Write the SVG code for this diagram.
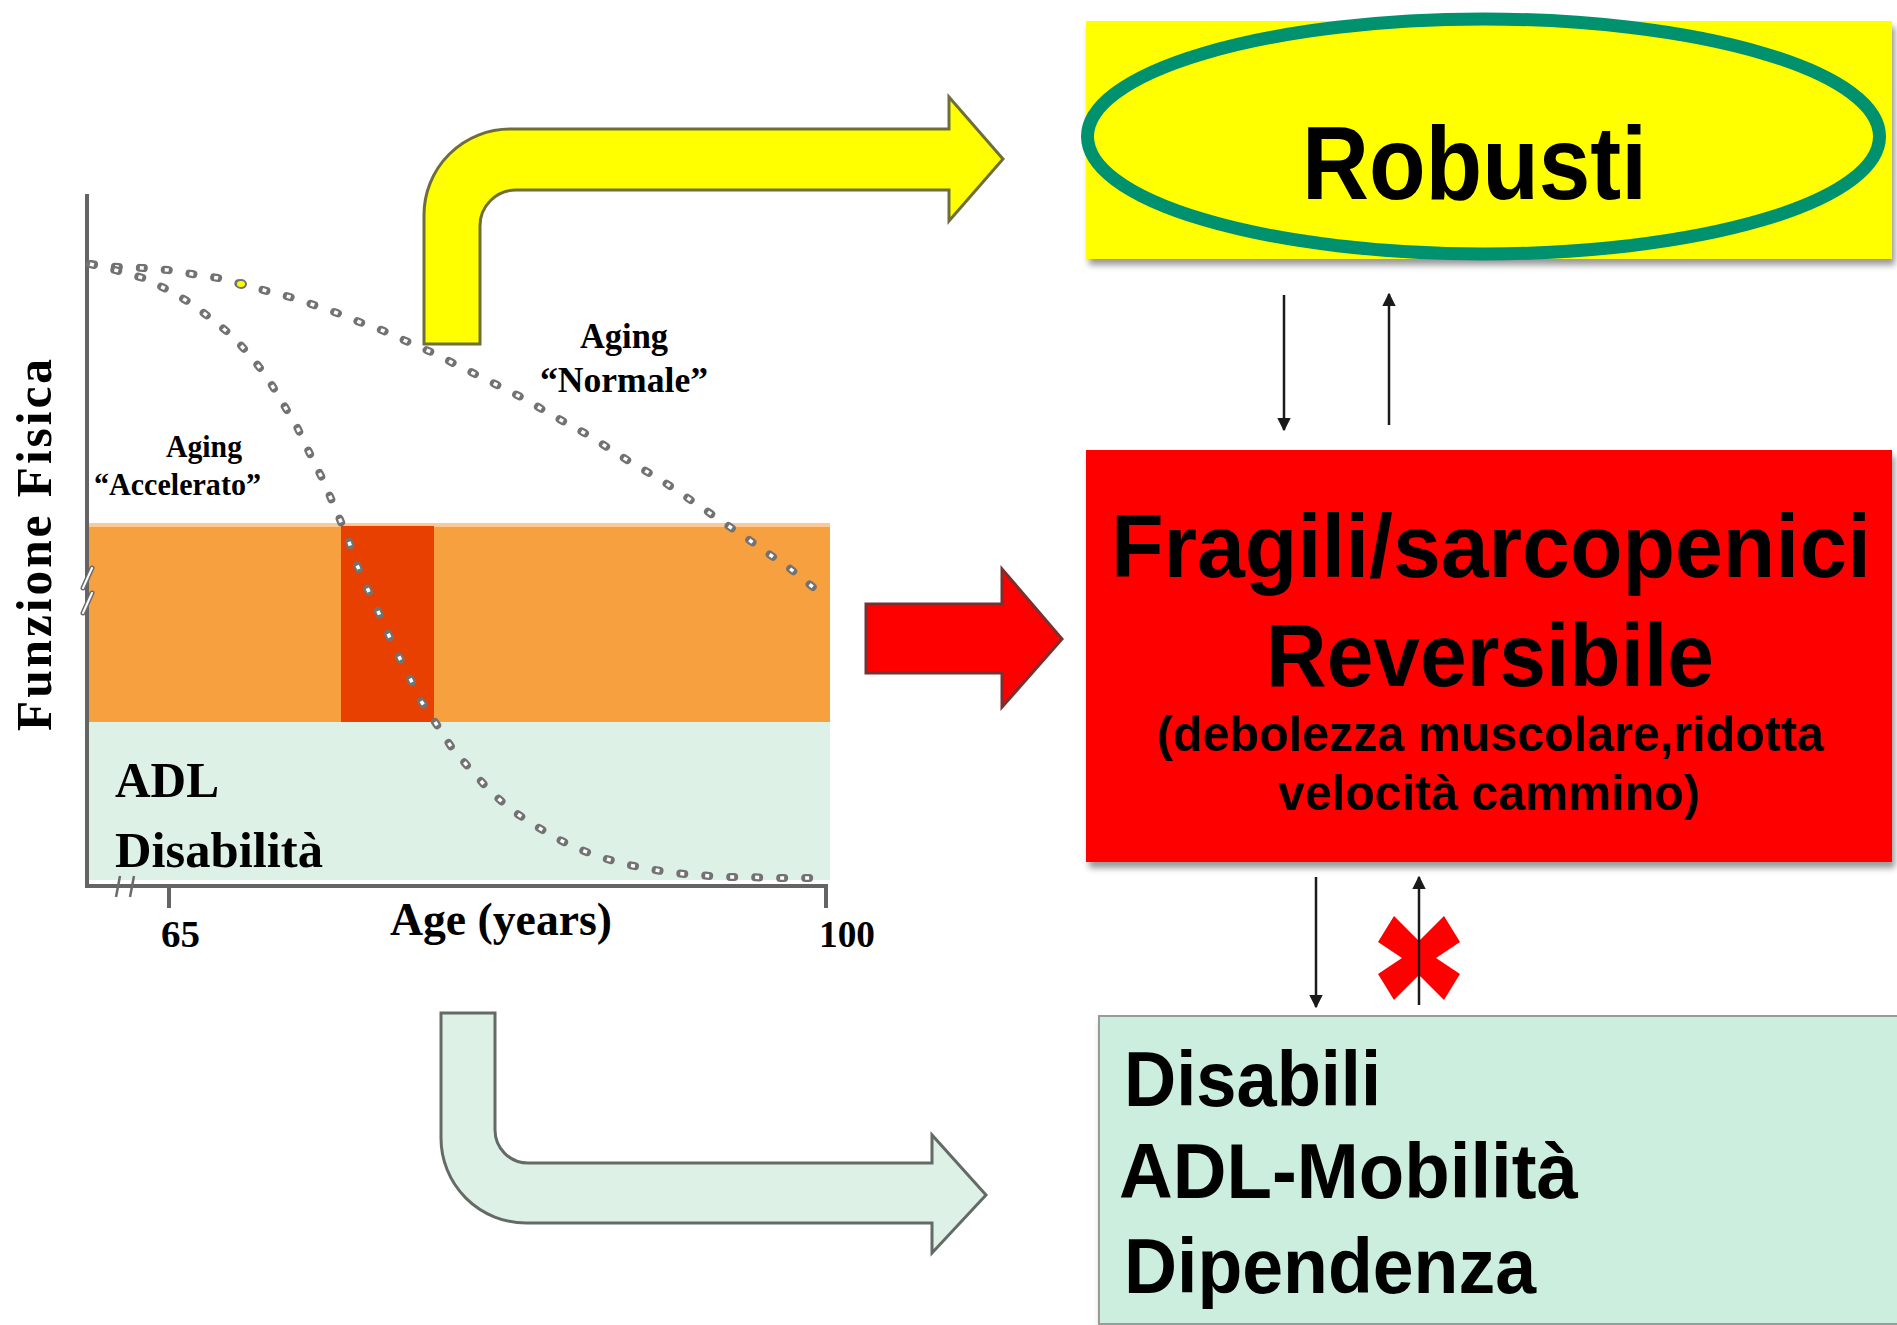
<svg xmlns="http://www.w3.org/2000/svg" width="1897" height="1325" viewBox="0 0 1897 1325">
<style>
.serif{font-family:"Liberation Serif","Times New Roman",serif;font-weight:bold;fill:#000}
.sans{font-family:"Liberation Sans",Arial,sans-serif;font-weight:bold;fill:#000}
.axis{stroke:#646464;stroke-width:4;fill:none}
.dotO{fill:none;stroke:#727272;stroke-width:8;stroke-dasharray:4 21;stroke-linecap:round;stroke-linejoin:round}
.dotI{fill:none;stroke:#fff;stroke-width:3.5;stroke-dasharray:4 21;stroke-linecap:butt;stroke-linejoin:round}
.thin{stroke:#1a1a1a;stroke-width:2.5;fill:none}
</style>
<defs>
<filter id="sh" x="-5%" y="-5%" width="112%" height="115%">
<feDropShadow dx="3" dy="6" stdDeviation="3" flood-color="#000" flood-opacity="0.4"/>
</filter>
<marker id="ah" viewBox="0 0 10 10" refX="9" refY="5" markerWidth="5.5" markerHeight="5.5" orient="auto-start-reverse" markerUnits="strokeWidth">
<path d="M0,0 L10,5 L0,10 Z" fill="#1a1a1a"/>
</marker>
</defs>
<rect width="1897" height="1325" fill="#fff"/>

<g id="chart">
<rect x="87" y="526" width="743" height="196" fill="#F7A040"/>
<rect x="87" y="523" width="743" height="4" fill="#FBC896"/>
<rect x="341" y="526" width="93" height="196" fill="#E84000"/>
<rect x="87" y="722" width="743" height="158" fill="#DDF1E7"/>
<line class="axis" x1="87" y1="194" x2="87" y2="888"/>
<line class="axis" x1="85" y1="886" x2="828" y2="886"/>
<line class="axis" x1="169" y1="886" x2="169" y2="908"/>
<line class="axis" x1="826" y1="886" x2="826" y2="908"/>
<g stroke="#6a6a6a" stroke-width="5" stroke-linecap="round"><line x1="83" y1="588" x2="92" y2="568"/><line x1="83" y1="613" x2="92" y2="593"/></g>
<g stroke="#fff" stroke-width="2" stroke-linecap="round"><line x1="83" y1="588" x2="92" y2="568"/><line x1="83" y1="613" x2="92" y2="593"/></g>
<g stroke="#6a6a6a" stroke-width="2.5"><line x1="116" y1="897" x2="120" y2="876"/><line x1="130" y1="897" x2="134" y2="876"/></g>
<path class="dotO" d="M90,264 L118,267 L143,268 L168,270 L192,274 L218,278 L241,284 L267,291 L290,297 L314,305 L337,313 L362,323 L384,331 L408,342 L431,352 L455,364 L477,375 L499,386 L523,398 L545,411 L568,424 L590,436 L613,451 L635,465 L658,478 L679,492 L701,507 L724,523 L745,537 L766,552 L788,567 L809,584 L829,600"/>
<path class="dotI" d="M90,264 L118,267 L143,268 L168,270 L192,274 L218,278 L241,284 L267,291 L290,297 L314,305 L337,313 L362,323 L384,331 L408,342 L431,352 L455,364 L477,375 L499,386 L523,398 L545,411 L568,424 L590,436 L613,451 L635,465 L658,478 L679,492 L701,507 L724,523 L745,537 L766,552 L788,567 L809,584 L829,600"/>
<path class="dotO" d="M90,264 L115,270 L143,278 L166,289 L189,302 L209,317 L230,334 L249,354 L267,377 L282,402 L297,427 L310,454 L323,480 L335,508 L347,536 L357,565 L369,592 L382,620 L394,647 L408,674 L421,701 L437,725 L452,748 L471,770 L489,790 L510,809 L531,823 L554,837 L576,848 L600,857 L624,864 L649,869 L673,873 L698,875 L723,877 L746,877 L772,878 L796,878 L816,878"/>
<path class="dotI" d="M90,264 L115,270 L143,278 L166,289 L189,302 L209,317 L230,334 L249,354 L267,377 L282,402 L297,427 L310,454 L323,480 L335,508 L347,536 L357,565 L369,592 L382,620 L394,647 L408,674 L421,701 L437,725 L452,748 L471,770 L489,790 L510,809 L531,823 L554,837 L576,848 L600,857 L624,864 L649,869 L673,873 L698,875 L723,877 L746,877 L772,878 L796,878 L816,878"/>
<ellipse cx="241" cy="284" rx="5" ry="4" fill="#ffff00" stroke="#727272" stroke-width="2"/>
<text class="serif" font-size="50" letter-spacing="3" textLength="375" lengthAdjust="spacingAndGlyphs" transform="translate(51,731) rotate(-90)">Funzione Fisica</text>
<text class="serif" x="166" y="457" font-size="32" textLength="76" lengthAdjust="spacingAndGlyphs">Aging</text>
<text class="serif" x="94" y="495" font-size="32" textLength="167" lengthAdjust="spacingAndGlyphs">“Accelerato”</text>
<text class="serif" x="580" y="348" font-size="36" textLength="88" lengthAdjust="spacingAndGlyphs">Aging</text>
<text class="serif" x="540" y="392" font-size="36" textLength="168" lengthAdjust="spacingAndGlyphs">“Normale”</text>
<text class="serif" x="115" y="797" font-size="50" textLength="104" lengthAdjust="spacingAndGlyphs">ADL</text>
<text class="serif" x="115" y="867" font-size="50" textLength="208" lengthAdjust="spacingAndGlyphs">Disabilità</text>
<text class="serif" x="390" y="935" font-size="46" textLength="222" lengthAdjust="spacingAndGlyphs">Age (years)</text>
<text class="serif" x="161" y="947" font-size="38" textLength="39" lengthAdjust="spacingAndGlyphs">65</text>
<text class="serif" x="819" y="947" font-size="38" textLength="56" lengthAdjust="spacingAndGlyphs">100</text>
</g>

<g id="robusti">
<rect x="1086" y="21" width="806" height="238" fill="#FFFF00" filter="url(#sh)"/>
<ellipse cx="1483.5" cy="136.5" rx="396" ry="117.5" fill="none" stroke="#00916E" stroke-width="13"/>
<text class="sans" x="1302" y="199" font-size="104" textLength="345" lengthAdjust="spacingAndGlyphs">Robusti</text>
</g>

<g id="fragili">
<rect x="1086" y="450" width="806" height="412" fill="#FF0000" filter="url(#sh)"/>
<text class="sans" x="1111" y="577" font-size="89" textLength="760" lengthAdjust="spacingAndGlyphs">Fragili/sarcopenici</text>
<text class="sans" x="1266" y="686" font-size="89" textLength="448" lengthAdjust="spacingAndGlyphs">Reversibile</text>
<text class="sans" x="1157" y="751" font-size="50" textLength="667" lengthAdjust="spacingAndGlyphs">(debolezza muscolare,ridotta</text>
<text class="sans" x="1278" y="810" font-size="50" textLength="422" lengthAdjust="spacingAndGlyphs">velocità cammino)</text>
</g>

<g id="disabili">
<rect x="1099" y="1016" width="800" height="308" fill="#CCEEDE" stroke="#9a9a9a" stroke-width="2" filter="url(#sh)"/>
<text class="sans" x="1124" y="1106" font-size="78" textLength="257" lengthAdjust="spacingAndGlyphs">Disabili</text>
<text class="sans" x="1119" y="1198" font-size="78" textLength="459" lengthAdjust="spacingAndGlyphs">ADL-Mobilità</text>
<text class="sans" x="1124" y="1293" font-size="78" textLength="412" lengthAdjust="spacingAndGlyphs">Dipendenza</text>
</g>

<g id="connectors">
<path d="M424,344 L424,215 A86,86 0 0 1 510,129 L949,129 L949,97 L1003,159 L949,221 L949,190 L516,190 A36,36 0 0 0 480,226 L480,344 Z" fill="#FFFF00" stroke="#6e6e3c" stroke-width="3" stroke-linejoin="miter"/>
<path d="M441,1013 L495,1013 L495,1130 A33,33 0 0 0 528,1163 L932,1163 L932,1135 L986,1195 L932,1253 L932,1223 L526,1223 A85,85 0 0 1 441,1138 Z" fill="#DDF1E7" stroke="#636b66" stroke-width="3"/>
<path d="M866,604 L1002,604 L1002,569 L1062,639 L1002,707 L1002,673 L866,673 Z" fill="#FF0000" stroke="#7a3030" stroke-width="3"/>
<line class="thin" x1="1284" y1="295" x2="1284" y2="430" marker-end="url(#ah)"/>
<line class="thin" x1="1389" y1="425" x2="1389" y2="294" marker-end="url(#ah)"/>
<line class="thin" x1="1316" y1="877" x2="1316" y2="1007" marker-end="url(#ah)"/>
<polygon points="1378,942 1394,916 1419,941 1444,916 1460,942 1436,958 1460,974 1444,1000 1419,975 1394,1000 1378,974 1402,958" fill="#FF0000"/>
<line class="thin" x1="1419" y1="1005" x2="1419" y2="877" marker-end="url(#ah)"/>
</g>
</svg>
